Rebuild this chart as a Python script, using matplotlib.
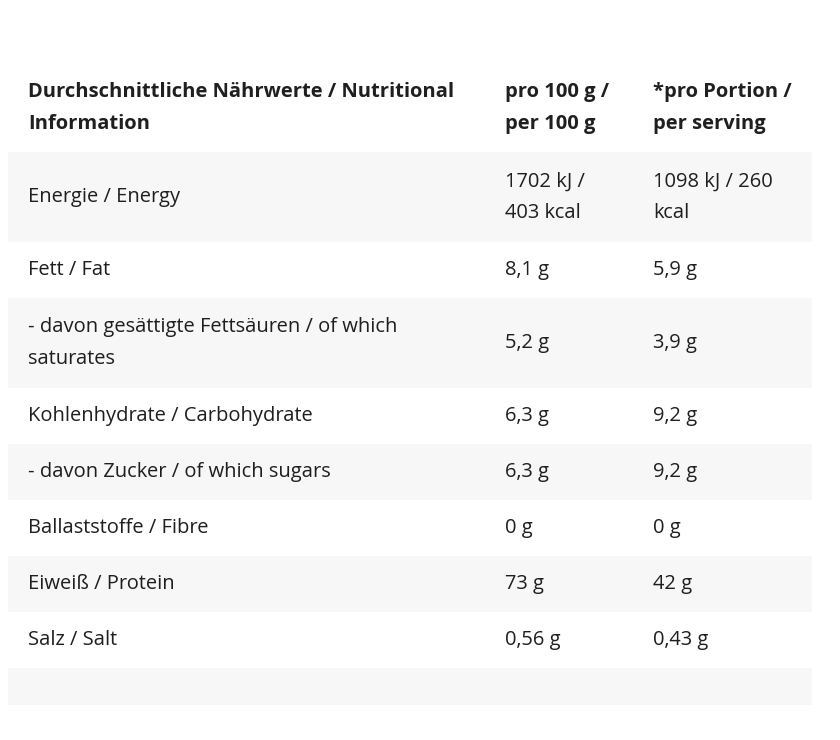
import matplotlib
matplotlib.use("Agg")
import matplotlib.pyplot as plt
from matplotlib.patches import Rectangle

headers = ["Durchschnittliche Nährwerte / Nutritional\nInformation", "pro 100 g /\nper 100 g", "*pro Portion /\nper serving"]
nutrients = ["Energie / Energy", "Fett / Fat", "- davon gesättigte Fettsäuren / of which\nsaturates",
             "Kohlenhydrate / Carbohydrate", "- davon Zucker / of which sugars", "Ballaststoffe / Fibre",
             "Eiweiß / Protein", "Salz / Salt", ""]
per100 = ["1702 kJ /\n403 kcal", "8,1 g", "5,2 g", "6,3 g", "6,3 g", "0 g", "73 g", "0,56 g", ""]
perserving = ["1098 kJ / 260\nkcal", "5,9 g", "3,9 g", "9,2 g", "9,2 g", "0 g", "42 g", "0,43 g", ""]
row_heights = [90, 56, 90, 56, 56, 56, 56, 56, 37]

fig = plt.figure(figsize=(8.4, 7.4), dpi=100)
ax = fig.add_axes([0, 0, 1, 1])
ax.set_xlim(0, 840)
ax.set_ylim(740, 0)
ax.axis("off")

col_x = [28, 505, 653]
fs = 14.5
col = "#1f1f1f"
for x, h in zip(col_x, headers):
    ax.text(x, 108, h, fontsize=fs, fontweight="bold", family="Open Sans", color=col,
            va="center", ha="left", linespacing=1.75)

y = 152
for i, rh in enumerate(row_heights):
    if i % 2 == 0:
        ax.add_patch(Rectangle((8, y), 804, rh, facecolor="#f7f7f7", edgecolor="none"))
    cy = y + rh / 2
    for x, t in zip(col_x, [nutrients[i], per100[i], perserving[i]]):
        if t:
            ax.text(x, cy, t, fontsize=fs, family="Open Sans", color=col,
                    va="center", ha="left", linespacing=1.75)
    y += rh

fig.savefig("out.png", dpi=100, facecolor="white")
